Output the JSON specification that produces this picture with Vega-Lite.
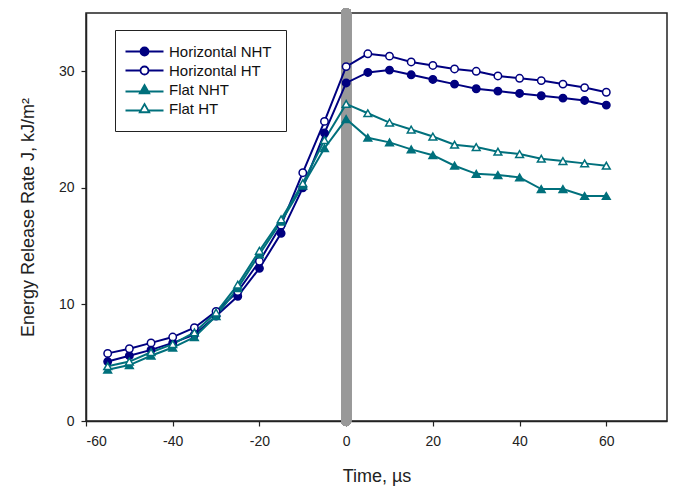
{
  "$schema": "https://vega.github.io/schema/vega-lite/v6.json",
  "autosize": "none",
  "width": 581,
  "height": 408,
  "padding": {"left": 86, "top": 13, "right": 9, "bottom": 66},
  "background": "white",
  "config": {
    "font": "Liberation Sans",
    "view": {"stroke": "#222", "strokeWidth": 1.5},
    "axis": {
      "grid": false,
      "domainColor": "#222",
      "domainWidth": 1.5,
      "tickColor": "#222",
      "tickWidth": 1.2,
      "tickSize": 5,
      "labelFont": "Liberation Sans",
      "labelFontSize": 14,
      "labelColor": "#222",
      "titleFont": "Liberation Sans",
      "titleFontSize": 18,
      "titleFontWeight": "normal",
      "titleColor": "#222"
    },
    "legend": {
      "orient": "none",
      "legendX": 29,
      "legendY": 17,
      "padding": 14,
      "symbolOffset": 8,
      "labelOffset": 17,
      "rowPadding": 2,
      "symbolSize": 100,
      "symbolStrokeWidth": 1.8,
      "symbolOpacity": 1,
      "labelFont": "Liberation Sans",
      "labelFontSize": 15,
      "labelColor": "#111",
      "strokeColor": "#222",
      "fillColor": "white"
    }
  },
  "data": {
    "values": [
      {"time": -55, "series": "Horizontal NHT", "value": 5.1},
      {"time": -50, "series": "Horizontal NHT", "value": 5.6},
      {"time": -45, "series": "Horizontal NHT", "value": 6.1},
      {"time": -40, "series": "Horizontal NHT", "value": 6.7},
      {"time": -35, "series": "Horizontal NHT", "value": 7.4},
      {"time": -30, "series": "Horizontal NHT", "value": 9.0},
      {"time": -25, "series": "Horizontal NHT", "value": 10.7},
      {"time": -20, "series": "Horizontal NHT", "value": 13.1},
      {"time": -15, "series": "Horizontal NHT", "value": 16.1},
      {"time": -10, "series": "Horizontal NHT", "value": 20.0},
      {"time": -5, "series": "Horizontal NHT", "value": 24.7},
      {"time": 0, "series": "Horizontal NHT", "value": 29.0},
      {"time": 5, "series": "Horizontal NHT", "value": 29.9},
      {"time": 10, "series": "Horizontal NHT", "value": 30.1},
      {"time": 15, "series": "Horizontal NHT", "value": 29.7},
      {"time": 20, "series": "Horizontal NHT", "value": 29.3},
      {"time": 25, "series": "Horizontal NHT", "value": 28.9},
      {"time": 30, "series": "Horizontal NHT", "value": 28.5},
      {"time": 35, "series": "Horizontal NHT", "value": 28.3},
      {"time": 40, "series": "Horizontal NHT", "value": 28.1},
      {"time": 45, "series": "Horizontal NHT", "value": 27.9},
      {"time": 50, "series": "Horizontal NHT", "value": 27.7},
      {"time": 55, "series": "Horizontal NHT", "value": 27.5},
      {"time": 60, "series": "Horizontal NHT", "value": 27.1},
      {"time": -55, "series": "Horizontal HT", "value": 5.8},
      {"time": -50, "series": "Horizontal HT", "value": 6.2},
      {"time": -45, "series": "Horizontal HT", "value": 6.7},
      {"time": -40, "series": "Horizontal HT", "value": 7.2},
      {"time": -35, "series": "Horizontal HT", "value": 8.0},
      {"time": -30, "series": "Horizontal HT", "value": 9.4},
      {"time": -25, "series": "Horizontal HT", "value": 11.1},
      {"time": -20, "series": "Horizontal HT", "value": 13.7},
      {"time": -15, "series": "Horizontal HT", "value": 16.8},
      {"time": -10, "series": "Horizontal HT", "value": 21.3},
      {"time": -5, "series": "Horizontal HT", "value": 25.7},
      {"time": 0, "series": "Horizontal HT", "value": 30.4},
      {"time": 5, "series": "Horizontal HT", "value": 31.5},
      {"time": 10, "series": "Horizontal HT", "value": 31.3},
      {"time": 15, "series": "Horizontal HT", "value": 30.8},
      {"time": 20, "series": "Horizontal HT", "value": 30.5},
      {"time": 25, "series": "Horizontal HT", "value": 30.2},
      {"time": 30, "series": "Horizontal HT", "value": 30.0},
      {"time": 35, "series": "Horizontal HT", "value": 29.6},
      {"time": 40, "series": "Horizontal HT", "value": 29.4},
      {"time": 45, "series": "Horizontal HT", "value": 29.2},
      {"time": 50, "series": "Horizontal HT", "value": 28.9},
      {"time": 55, "series": "Horizontal HT", "value": 28.6},
      {"time": 60, "series": "Horizontal HT", "value": 28.2},
      {"time": -55, "series": "Flat NHT", "value": 4.4},
      {"time": -50, "series": "Flat NHT", "value": 4.8},
      {"time": -45, "series": "Flat NHT", "value": 5.6},
      {"time": -40, "series": "Flat NHT", "value": 6.3},
      {"time": -35, "series": "Flat NHT", "value": 7.2},
      {"time": -30, "series": "Flat NHT", "value": 9.0},
      {"time": -25, "series": "Flat NHT", "value": 11.4},
      {"time": -20, "series": "Flat NHT", "value": 14.3},
      {"time": -15, "series": "Flat NHT", "value": 17.1},
      {"time": -10, "series": "Flat NHT", "value": 20.2},
      {"time": -5, "series": "Flat NHT", "value": 23.4},
      {"time": 0, "series": "Flat NHT", "value": 25.9},
      {"time": 5, "series": "Flat NHT", "value": 24.3},
      {"time": 10, "series": "Flat NHT", "value": 23.9},
      {"time": 15, "series": "Flat NHT", "value": 23.3},
      {"time": 20, "series": "Flat NHT", "value": 22.8},
      {"time": 25, "series": "Flat NHT", "value": 21.9},
      {"time": 30, "series": "Flat NHT", "value": 21.2},
      {"time": 35, "series": "Flat NHT", "value": 21.1},
      {"time": 40, "series": "Flat NHT", "value": 20.9},
      {"time": 45, "series": "Flat NHT", "value": 19.9},
      {"time": 50, "series": "Flat NHT", "value": 19.9},
      {"time": 55, "series": "Flat NHT", "value": 19.3},
      {"time": 60, "series": "Flat NHT", "value": 19.3},
      {"time": -55, "series": "Flat HT", "value": 4.7},
      {"time": -50, "series": "Flat HT", "value": 5.1},
      {"time": -45, "series": "Flat HT", "value": 5.9},
      {"time": -40, "series": "Flat HT", "value": 6.6},
      {"time": -35, "series": "Flat HT", "value": 7.6},
      {"time": -30, "series": "Flat HT", "value": 9.3},
      {"time": -25, "series": "Flat HT", "value": 11.7},
      {"time": -20, "series": "Flat HT", "value": 14.6},
      {"time": -15, "series": "Flat HT", "value": 17.3},
      {"time": -10, "series": "Flat HT", "value": 20.4},
      {"time": -5, "series": "Flat HT", "value": 24.1},
      {"time": 0, "series": "Flat HT", "value": 27.2},
      {"time": 5, "series": "Flat HT", "value": 26.4},
      {"time": 10, "series": "Flat HT", "value": 25.6},
      {"time": 15, "series": "Flat HT", "value": 25.0},
      {"time": 20, "series": "Flat HT", "value": 24.4},
      {"time": 25, "series": "Flat HT", "value": 23.7},
      {"time": 30, "series": "Flat HT", "value": 23.5},
      {"time": 35, "series": "Flat HT", "value": 23.1},
      {"time": 40, "series": "Flat HT", "value": 22.9},
      {"time": 45, "series": "Flat HT", "value": 22.5},
      {"time": 50, "series": "Flat HT", "value": 22.3},
      {"time": 55, "series": "Flat HT", "value": 22.1},
      {"time": 60, "series": "Flat HT", "value": 21.9}
    ]
  },
  "encoding": {
    "x": {
      "field": "time", "type": "quantitative",
      "scale": {"domain": [-60, 74], "nice": false, "zero": false},
      "axis": {"values": [-60, -40, -20, 0, 20, 40, 60], "labelExpr": "toString(datum.value)", "title": "Time, µs", "titlePadding": 19, "labelPadding": 8}
    },
    "y": {
      "field": "value", "type": "quantitative",
      "scale": {"domain": [0, 35], "nice": false},
      "axis": {"values": [0, 10, 20, 30], "title": "Energy Release Rate J, kJ/m²", "titlePadding": 21, "labelPadding": 7}
    }
  },
  "layer": [
    {
      "mark": {"type": "rule", "color": "#999999", "strokeWidth": 10, "strokeCap": "round"},
      "encoding": {"x": {"datum": 0}, "y": null}
    },
    {
      "mark": {"type": "line", "strokeWidth": 2},
      "encoding": {
        "color": {
          "field": "series", "type": "nominal",
          "scale": {"range": ["#00707c", "#00707c", "#000080", "#000080"]},
          "legend": null
        }
      }
    },
    {
      "transform": [{"filter": "indexof(datum.series, 'Horizontal') === 0"}],
      "mark": {"type": "point", "shape": "circle", "filled": false, "strokeWidth": 1.5, "size": 55, "opacity": 1},
      "encoding": {
        "fill": {
          "field": "series", "type": "nominal", "title": null,
          "scale": {"domain": ["Horizontal NHT", "Horizontal HT", "Flat NHT", "Flat HT"], "range": ["#000080", "#ffffff", "#00707c", "#ffffff"]}
        },
        "stroke": {
          "field": "series", "type": "nominal", "title": null,
          "scale": {"domain": ["Horizontal NHT", "Horizontal HT", "Flat NHT", "Flat HT"], "range": ["#000080", "#000080", "#00707c", "#00707c"]}
        }
      }
    },
    {
      "transform": [{"filter": "indexof(datum.series, 'Flat') === 0"}],
      "mark": {"type": "point", "shape": "triangle-up", "filled": false, "strokeWidth": 1.5, "size": 60, "opacity": 1},
      "encoding": {
        "fill": {
          "field": "series", "type": "nominal", "title": null,
          "scale": {"domain": ["Horizontal NHT", "Horizontal HT", "Flat NHT", "Flat HT"], "range": ["#000080", "#ffffff", "#00707c", "#ffffff"]}
        },
        "stroke": {
          "field": "series", "type": "nominal", "title": null,
          "scale": {"domain": ["Horizontal NHT", "Horizontal HT", "Flat NHT", "Flat HT"], "range": ["#000080", "#000080", "#00707c", "#00707c"]}
        }
      }
    },
    {
      "transform": [{"filter": "false"}],
      "mark": {"type": "point", "filled": false, "strokeWidth": 1.8, "opacity": 1},
      "encoding": {
        "shape": {
          "field": "series", "type": "nominal", "title": null,
          "scale": {"domain": ["Horizontal NHT", "Horizontal HT", "Flat NHT", "Flat HT"], "range": [
            "M-3.8,0H-0.8M0.8,0H3.8M0.8,0A0.8,0.8,0,1,1,-0.8,0A0.8,0.8,0,1,1,0.8,0Z",
            "M-3.8,0H-0.8M0.8,0H3.8M0.8,0A0.8,0.8,0,1,1,-0.8,0A0.8,0.8,0,1,1,0.8,0Z",
            "M-3.8,0.4H-0.75M0.75,0.4H3.8M0,-0.9L0.95,0.75L-0.95,0.75Z",
            "M-3.8,0.4H-0.75M0.75,0.4H3.8M0,-0.9L0.95,0.75L-0.95,0.75Z"
          ]}
        },
        "fill": {
          "field": "series", "type": "nominal", "title": null,
          "scale": {"domain": ["Horizontal NHT", "Horizontal HT", "Flat NHT", "Flat HT"], "range": ["#000080", "#ffffff", "#00707c", "#ffffff"]}
        },
        "stroke": {
          "field": "series", "type": "nominal", "title": null,
          "scale": {"domain": ["Horizontal NHT", "Horizontal HT", "Flat NHT", "Flat HT"], "range": ["#000080", "#000080", "#00707c", "#00707c"]}
        }
      }
    }
  ]
}
